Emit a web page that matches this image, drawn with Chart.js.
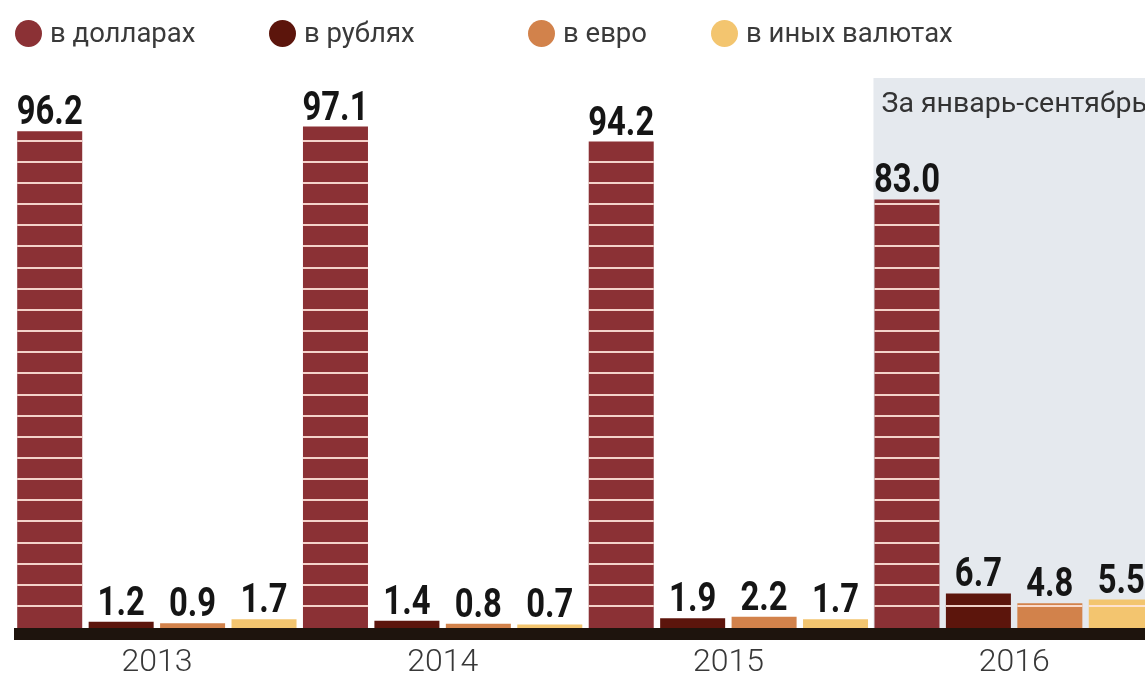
<!DOCTYPE html>
<html>
<head>
<meta charset="utf-8">
<script src="https://cdn.jsdelivr.net/npm/chart.js@4.4.1/dist/chart.umd.min.js"></script>
<style>
  html, body { margin: 0; padding: 0; background: #ffffff; overflow: hidden; }
  #wrap { position: relative; width: 1171px; height: 679px; }
  #legend { position: absolute; left: 0; top: 0; width: 1145px; height: 60px; font-family: Roboto, "Open Sans", sans-serif; font-size: 27.5px; color: #3a3a3a; }
  .item { position: absolute; top: 17px; height: 32px; line-height: 32px; white-space: nowrap; }
  .dot { position: absolute; top: 3px; left: 0; width: 27px; height: 27px; border-radius: 50%; }
  .lbl { position: absolute; left: 35px; top: 0; }
</style>
</head>
<body>
<div id="wrap">
  <canvas id="c" width="1171" height="679"></canvas>
  <div id="legend"></div>
</div>
<script>
// ---- data ----
const categories = ["2013", "2014", "2015", "2016"];
const seriesNames = ["в долларах", "в рублях", "в евро", "в иных валютах"];
const usdValues = [96.2, 97.1, 94.2, 83.0];
const rubValues = [1.2, 1.4, 1.9, 6.7];
const eurValues = [0.9, 0.8, 2.2, 4.8];
const otherValues = [1.7, 0.7, 1.7, 5.5];
const noteText = "За январь-сентябрь";

const colors = ["#8b3135", "#5c150c", "#d2824b", "#f3c56f"];
const legendLeft = [15, 269, 528, 711];

// legend (HTML)
const lg = document.getElementById('legend');
seriesNames.forEach((n, i) => {
  const d = document.createElement('div');
  d.className = 'item';
  d.style.left = legendLeft[i] + 'px';
  d.innerHTML = '<span class="dot" style="background:' + colors[i] + '"></span><span class="lbl">' + n + '</span>';
  lg.appendChild(d);
});

const allSeries = [usdValues, rubValues, eurValues, otherValues];

const shadePlugin = {
  id: 'shade',
  beforeDatasetsDraw(chart) {
    const ctx = chart.ctx, ca = chart.chartArea;
    const el = chart.getDatasetMeta(0).data[3];
    const x0 = el.x - el.width / 2 - 1;
    ctx.save();
    ctx.fillStyle = '#e5e9ee';
    ctx.fillRect(x0, ca.top + 18, ca.right - x0 + 20, ca.bottom - ca.top - 18);
    ctx.fillStyle = '#333333';
    ctx.font = '28.5px Roboto, "Open Sans", sans-serif';
    ctx.textBaseline = 'alphabetic';
    ctx.textAlign = 'left';
    ctx.fillText(noteText, x0 + 8, ca.top + 52);
    ctx.restore();
  }
};

const decoPlugin = {
  id: 'deco',
  afterDatasetsDraw(chart) {
    const ctx = chart.ctx, ca = chart.chartArea;
    ctx.save();
    // stripes across bars
    ctx.fillStyle = 'rgba(255,228,218,0.9)';
    chart.data.datasets.forEach((ds, di) => {
      chart.getDatasetMeta(di).data.forEach(el => {
        const l = el.x - el.width / 2;
        for (let y = ca.bottom - 22; y > el.y + 2; y -= 21.15) {
          ctx.fillRect(l, Math.round(y) - 1, el.width, 2);
        }
      });
    });
    // axis band
    ctx.fillStyle = '#1e140d';
    ctx.fillRect(ca.left, ca.bottom, ca.right - ca.left + 20, 12);
    // value labels (condensed look via horizontal scaling)
    ctx.fillStyle = '#151515';
    ctx.font = 'bold 41px Roboto, sans-serif';
    ctx.textAlign = 'center';
    ctx.textBaseline = 'alphabetic';
    chart.data.datasets.forEach((ds, di) => {
      chart.getDatasetMeta(di).data.forEach((el, i) => {
        ctx.save();
        ctx.translate(el.x, el.y - 7);
        ctx.scale(0.8, 1);
        ctx.fillText(ds.data[i].toFixed(1), 0, 0);
        ctx.restore();
      });
    });
    ctx.restore();
  }
};

new Chart(document.getElementById('c'), {
  type: 'bar',
  data: {
    labels: categories,
    datasets: allSeries.map((vals, i) => ({
      label: seriesNames[i],
      data: vals,
      backgroundColor: colors[i],
      borderWidth: 0,
      categoryPercentage: 1.0,
      barPercentage: 0.91
    }))
  },
  options: {
    responsive: false,
    animation: false,
    layout: { padding: { left: 14, right: 14, top: 60, bottom: 0 } },
    plugins: { legend: { display: false }, tooltip: { enabled: false } },
    scales: {
      x: {
        grid: { display: false, drawTicks: false, tickLength: 0 },
        border: { display: false },
        ticks: { color: '#383838', padding: 16, font: { family: 'Roboto', size: 32, weight: '300' } },
        afterFit(scale) { scale.height = 51; }
      },
      y: {
        display: false,
        min: 0,
        max: 110
      }
    }
  },
  plugins: [shadePlugin, decoPlugin]
});
</script>
</body>
</html>
